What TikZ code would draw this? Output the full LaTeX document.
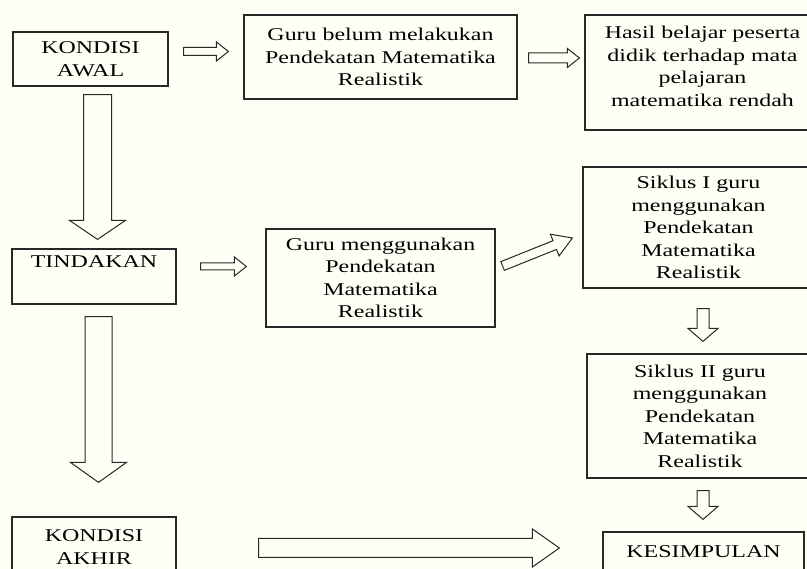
\documentclass[tikz,border=0pt]{standalone}
\usepackage{fontspec}
\setmainfont{Liberation Serif}[FakeStretch=1.33]
\usetikzlibrary{calc}
\definecolor{paper}{RGB}{255,255,246}
\definecolor{ink}{RGB}{40,40,40}
% hollow block arrow: from, to, shaft half width, head half width, head length
\newcommand{\blockarrow}[5]{%
  \draw[blockarr] let \p1=(#1), \p2=(#2), \n1={atan2(\y2-\y1,\x2-\x1)} in
    ($(\p1)+({\n1+90}:#3)$) -- ($(\p2)+({\n1+180}:#5)+({\n1+90}:#3)$)
    -- ($(\p2)+({\n1+180}:#5)+({\n1+90}:#4)$) -- (\p2)
    -- ($(\p2)+({\n1+180}:#5)+({\n1-90}:#4)$)
    -- ($(\p2)+({\n1+180}:#5)+({\n1-90}:#3)$)
    -- ($(\p1)+({\n1-90}:#3)$) -- cycle;}
\begin{document}
\begin{tikzpicture}[x=1pt,y=1pt,
  box/.style={draw=ink,line width=1.2pt,align=center,inner sep=0pt,
    font=\fontsize{18}{22.5}\selectfont},
  blockarr/.style={draw=ink,line width=1pt,line join=miter}]
\clip (0,0) rectangle (807,-569);
\fill[paper] (0,0) rectangle (807,-569);
% left column
\node[box,minimum width=155pt,minimum height=54pt] (kawal) at (90.5,-59) {KONDISI\\AWAL};
\node[box,minimum width=164pt,minimum height=55pt] (tindakan) at (94,-276.5) {TINDAKAN\\\strut};
\node[box,minimum width=164pt,minimum height=60pt] (kakhir) at (94,-547) {KONDISI\\AKHIR};
% middle column
\node[box,minimum width=273pt,minimum height=84pt] (gbelum) at (380.5,-57)
  {Guru belum melakukan\\Pendekatan Matematika\\Realistik};
\node[box,minimum width=229pt,minimum height=98pt] (gpakai) at (380.5,-278)
  {Guru menggunakan\\Pendekatan\\Matematika\\Realistik};
% right column
\node[box,minimum width=235pt,minimum height=115pt,text depth=12pt] (hasil) at (702.5,-72.5)
  {Hasil belajar peserta\\didik terhadap mata\\pelajaran\\matematika rendah};
\node[box,minimum width=231pt,minimum height=121pt] (siklus1) at (698.5,-227.5)
  {Siklus I guru\\menggunakan\\Pendekatan\\Matematika\\Realistik};
\node[box,minimum width=226pt,minimum height=124pt] (siklus2) at (700,-416)
  {Siklus II guru\\menggunakan\\Pendekatan\\Matematika\\Realistik};
\node[box,minimum width=201pt,minimum height=40pt] (kesimpulan) at (703.5,-552) {KESIMPULAN};
% arrows
\blockarrow{$(kawal.east)+(15,7.5)$}{$(gbelum.west)+(-15,5.5)$}{4}{9.5}{12}
\blockarrow{$(gbelum.east)+(11,-1)$}{$(hasil.west)+(-5,14.5)$}{5}{9.5}{12}
\blockarrow{$(kawal.south)+(7,-8)$}{$(tindakan.north)+(3.5,9)$}{14}{28}{19}
\blockarrow{$(tindakan.east)+(24,10)$}{$(gpakai.west)+(-19,11.5)$}{3.5}{9.5}{12}
\blockarrow{$(gpakai.east)+(7,12)$}{$(siklus1.west)+(-10,-10.5)$}{4.7}{11.7}{19}
\blockarrow{$(tindakan.south)+(4.5,-12)$}{$(kakhir.north)+(4.5,34)$}{13.5}{28}{20}
\blockarrow{$(siklus1.south)+(4.5,-20)$}{$(siklus2.north)+(3,12)$}{6}{15}{13}
\blockarrow{$(siklus2.south)+(3,-12)$}{$(kesimpulan.north)+(-0.5,12)$}{6}{15}{13}
\blockarrow{$(kakhir.east)+(82,-1)$}{$(kesimpulan.west)+(-43,4)$}{9.5}{19}{27}
\end{tikzpicture}
\end{document}
